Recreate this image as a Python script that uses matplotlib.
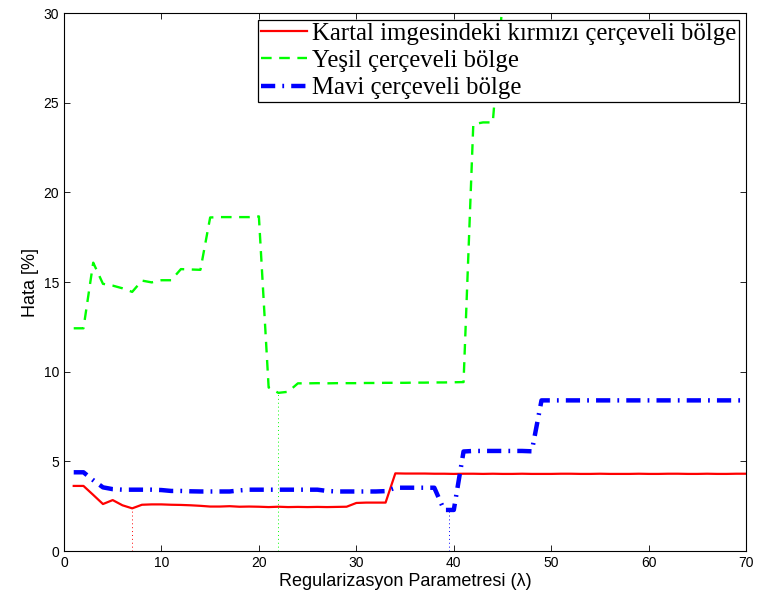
import numpy as np
import matplotlib
matplotlib.use("Agg")
import matplotlib.pyplot as plt

# regularization parameter values
lam = np.arange(1, 71)

# error (%) for the red-framed region of the eagle image
hata_kirmizi = [3.63, 3.63, 3.13, 2.62, 2.84, 2.55, 2.38, 2.58, 2.60, 2.60,
                2.58, 2.57, 2.55, 2.52, 2.48, 2.48, 2.50, 2.47, 2.48, 2.47,
                2.45, 2.47, 2.45, 2.46, 2.45, 2.46, 2.45, 2.46, 2.47, 2.68,
                2.70, 2.70, 2.70, 4.33, 4.32, 4.32, 4.32, 4.31, 4.31, 4.30,
                4.31, 4.31, 4.30, 4.31, 4.30, 4.30, 4.31, 4.30, 4.30, 4.30,
                4.31, 4.31, 4.30, 4.30, 4.31, 4.30, 4.30, 4.30, 4.31, 4.30,
                4.30, 4.31, 4.31, 4.30, 4.30, 4.31, 4.30, 4.30, 4.31, 4.31]

# green-framed region
hata_yesil = [12.42, 12.42, 16.08, 14.90, 14.80, 14.65, 14.45, 15.08, 14.98, 15.10,
              15.10, 15.72, 15.70, 15.68, 18.60, 18.62, 18.62, 18.62, 18.62, 18.66,
              9.12, 8.82, 8.88, 9.35, 9.35, 9.36, 9.35, 9.36, 9.36, 9.36,
              9.37, 9.37, 9.38, 9.38, 9.38, 9.39, 9.39, 9.40, 9.40, 9.41,
              9.42, 23.80, 23.90, 23.90, 30.60, 30.80, 31.00, 31.00, 31.00, 31.00,
              31.00, 31.00, 31.00, 31.00, 31.00, 31.00, 31.00, 31.00, 31.00, 31.00,
              31.00, 31.00, 31.00, 31.00, 31.00, 31.00, 31.00, 31.00, 31.00, 31.00]

# blue-framed region
hata_mavi = [4.39, 4.39, 3.95, 3.55, 3.45, 3.42, 3.42, 3.42, 3.42, 3.40,
             3.35, 3.35, 3.33, 3.32, 3.32, 3.32, 3.32, 3.38, 3.42, 3.42,
             3.42, 3.42, 3.42, 3.42, 3.42, 3.42, 3.35, 3.32, 3.32, 3.32,
             3.32, 3.32, 3.34, 3.53, 3.53, 3.53, 3.53, 3.53, 2.29, 2.29,
             5.55, 5.58, 5.58, 5.58, 5.58, 5.58, 5.58, 5.56, 8.40, 8.40,
             8.40, 8.40, 8.40, 8.40, 8.40, 8.40, 8.40, 8.40, 8.40, 8.40,
             8.40, 8.40, 8.40, 8.40, 8.40, 8.40, 8.40, 8.40, 8.40, 8.40]

etiketler = ["Kartal imgesindeki kırmızı çerçeveli bölge",
             "Yeşil çerçeveli bölge",
             "Mavi çerçeveli bölge"]

plt.rcParams['font.family'] = ['Liberation Sans', 'DejaVu Sans']
plt.rcParams['xtick.direction'] = 'in'
plt.rcParams['ytick.direction'] = 'in'

fig = plt.figure(figsize=(7.58, 6.03), dpi=100)
ax = fig.add_axes([0.0844, 0.0862, 0.9000, 0.8922])

stiller = [
    dict(color=(1, 0, 0), linestyle='-', linewidth=1.6),
    dict(color=(0, 1, 0), linestyle=(0, (4.5, 3.2)), linewidth=1.7),
    dict(color=(0, 0, 1), linestyle=(0, (3.2, 1.6, 0.4, 1.6)), linewidth=3.2),
]

for seri, etiket, stil in zip([hata_kirmizi, hata_yesil, hata_mavi], etiketler, stiller):
    seri = np.array(seri)
    ax.plot(lam, seri, label=etiket, **stil)
    # dotted marker down to the minimum error
    en_kucuk = seri.min()
    x_min = lam[seri == en_kucuk].mean()
    ax.plot([x_min, x_min], [0, en_kucuk], color=stil['color'],
            linestyle=(0, (1, 3)), linewidth=0.7)

ax.set_xlim(0, 70)
ax.set_ylim(0, 30)
ax.set_xticks(np.arange(0, 71, 10))
ax.set_yticks(np.arange(0, 31, 5))
ax.tick_params(top=True, right=True, length=4, width=0.6, labelsize=10)
for sp in ax.spines.values():
    sp.set_linewidth(0.8)

ax.set_xlabel("Regularizasyon Parametresi (λ)", fontsize=13, labelpad=2)
ax.set_ylabel("Hata [%]", fontsize=13, labelpad=3)

leg = ax.legend(loc='upper right', bbox_to_anchor=(0.9897, 0.987),
                prop={'family': ['Liberation Serif', 'DejaVu Serif'], 'size': 17.8},
                frameon=True, fancybox=False, borderpad=0.1,
                handlelength=1.9, handletextpad=0.2, labelspacing=0.2,
                borderaxespad=0.0)
leg.get_frame().set_edgecolor('black')
leg.get_frame().set_linewidth(0.9)
leg.get_frame().set_alpha(1)

fig.savefig("out.png", dpi=100)
